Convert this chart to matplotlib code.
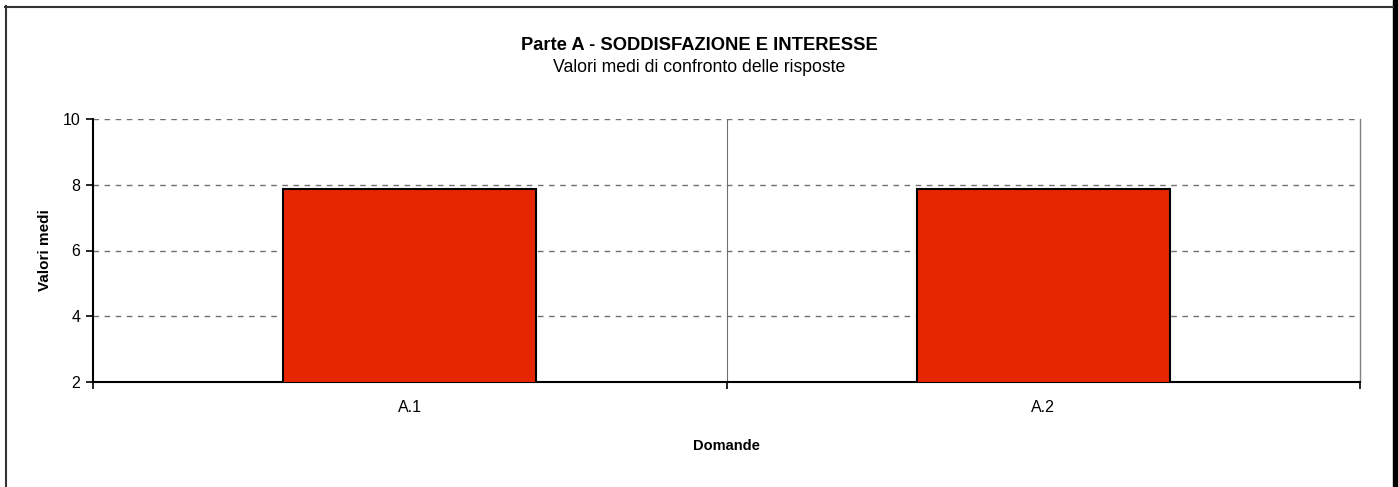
import matplotlib
matplotlib.use("Agg")
import matplotlib.pyplot as plt
from matplotlib.lines import Line2D
from matplotlib.patches import Rectangle

categories = ["A.1", "A.2"]
values = [7.87, 7.87]
y_ticks = [2, 4, 6, 8, 10]

plt.rcParams['font.family'] = ['Liberation Sans', 'DejaVu Sans']

W, H = 1398, 487
fig = plt.figure(figsize=(W / 100, H / 100), dpi=100)
ax = fig.add_axes([93 / W, 1 - 382 / H, (1360 - 93) / W, (382 - 119) / H])

x = list(range(len(categories)))
ax.bar(x, values, width=0.4, bottom=0, color="#E52600", edgecolor="black", linewidth=1.5, zorder=3)

ax.set_xlim(-0.5, len(categories) - 0.5)
ax.set_ylim(2, 10)
ax.set_yticks(y_ticks)
ax.set_yticklabels([str(v) for v in y_ticks], fontsize=11.5)
ax.set_xticks(x)
ax.set_xticklabels(categories, fontsize=11.5)
ax.tick_params(axis='x', which='major', length=0, pad=13)
ax.set_xticks([i - 0.5 for i in range(len(categories) + 1)], minor=True)
ax.tick_params(axis='x', which='minor', length=5, width=1.2, direction='out', color='black')
ax.tick_params(axis='y', length=5, width=1.2, direction='out', pad=4)

for v in y_ticks[1:]:
    ax.axhline(v, color="#707070", linestyle=(0, (4, 4)), linewidth=1.0, zorder=1)
for b in range(1, len(categories)):
    ax.axvline(b - 0.5, color="#707070", linewidth=0.8, zorder=1)

ax.spines['top'].set_visible(False)
ax.spines['right'].set_color('#808080')
ax.spines['right'].set_linewidth(1.0)
ax.spines['left'].set_linewidth(1.5)
ax.spines['bottom'].set_linewidth(1.5)

ax.set_ylabel("Valori medi", fontsize=11, fontweight='bold', labelpad=8)
ax.set_xlabel("Domande", fontsize=10.5, fontweight='bold', labelpad=17)

fig.text(699 / W, 1 - 46 / H, "Parte A - SODDISFAZIONE E INTERESSE", ha='center', va='center',
         fontsize=13.2, fontweight='bold')
fig.text(699 / W, 1 - 67 / H, "Valori medi di confronto delle risposte", ha='center', va='center',
         fontsize=12.7)

# figure border
fig.add_artist(Line2D([5.5 / W, 5.5 / W], [0, 1 - 6 / H], color='#333333', linewidth=1.5, transform=fig.transFigure))
fig.add_artist(Line2D([5 / W, 1393 / W], [1 - 6.5 / H, 1 - 6.5 / H], color='#333333', linewidth=1.5, transform=fig.transFigure))
fig.add_artist(Rectangle((1393 / W, 0), 5 / W, 1, color='black', transform=fig.transFigure))

fig.savefig("out.png", dpi=100)
